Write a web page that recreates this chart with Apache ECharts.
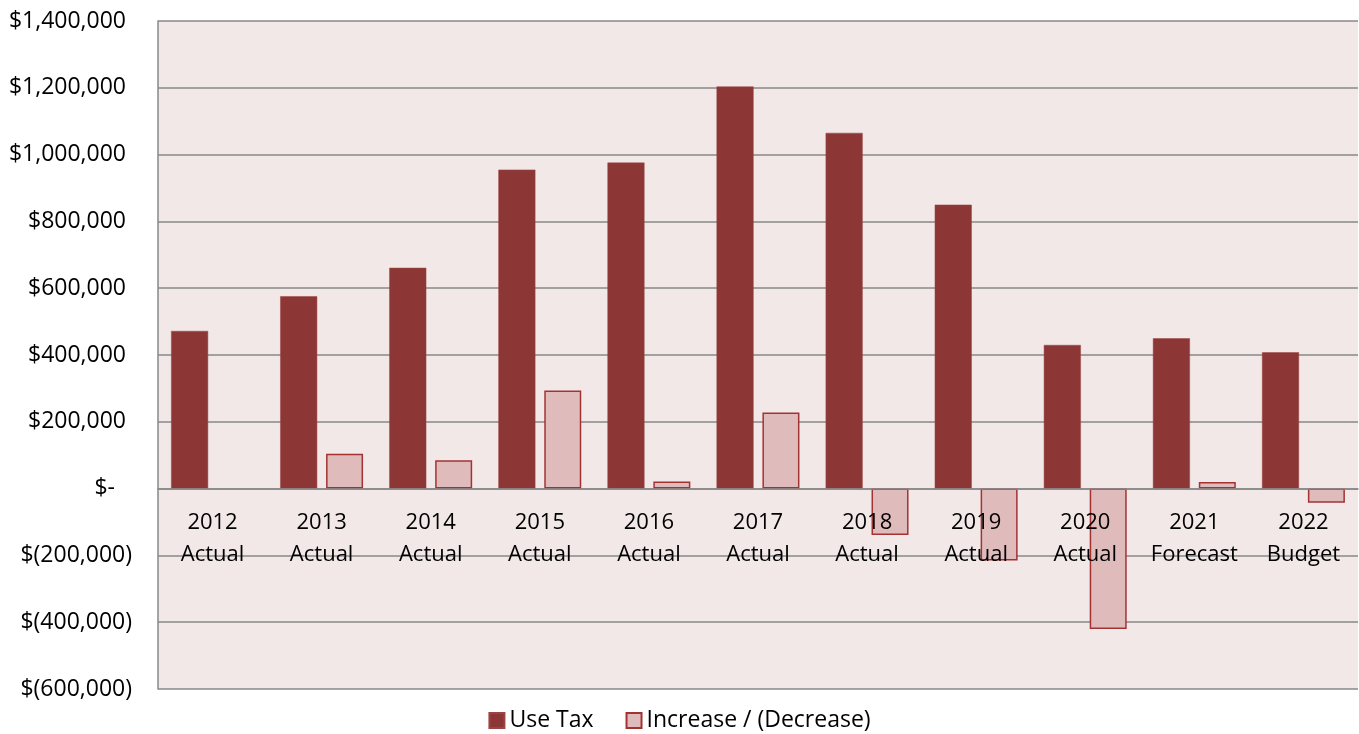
<!DOCTYPE html>
<html>
<head>
<meta charset="utf-8">
<script src="https://cdn.jsdelivr.net/npm/echarts@6/dist/echarts.min.js"></script>
<style>
  html, body { margin: 0; padding: 0; background: #ffffff; }
  #chart { width: 1359px; height: 734px; }
</style>
</head>
<body>
<div id="chart"></div>
<script>
// Fiscal years, each with its status on a second line
const categories = [
  '2012\nActual', '2013\nActual', '2014\nActual', '2015\nActual', '2016\nActual',
  '2017\nActual', '2018\nActual', '2019\nActual', '2020\nActual', '2021\nForecast', '2022\nBudget'
];

// Use tax collected per year (dollars)
const useTax = [472000, 576000, 661000, 955000, 976000, 1204000, 1065000, 850000, 430000, 450000, 408000];

// Year-over-year change (dollars); no prior year for 2012
const change = [null, 104000, 85000, 294000, 21000, 228000, -139000, -215000, -420000, 20000, -42000];

const seriesNames = ['Use Tax', 'Increase / (Decrease)'];

// Value axis range
const yMin = -600000;
const yMax = 1400000;
const yStep = 200000;

const FONT = '"Open Sans", "Liberation Sans", sans-serif';

const W = 1359, H = 734;
const grid = { left: 158, right: 1, top: 21, bottom: 45 };
const plotH = H - grid.top - grid.bottom;
// the category axis sits on the zero line, so shift it up from the plot's bottom edge
const zeroOffset = -plotH * (0 - yMin) / (yMax - yMin);

function money(v) {
  if (v === 0) return '{z|$-}';
  const s = Math.abs(v).toLocaleString('en-US');
  return v < 0 ? '$(' + s + ')' : '$' + s + ' ';
}

const chart = echarts.init(document.getElementById('chart'), null, { renderer: 'canvas' });

chart.setOption({
  animation: false,
  backgroundColor: '#ffffff',
  textStyle: { fontFamily: FONT },
  grid: {
    left: grid.left, right: grid.right, top: grid.top, bottom: grid.bottom,
    containLabel: false,
    outerBoundsMode: 'none',
    show: true, backgroundColor: '#F2E8E8', borderWidth: 0
  },
  legend: {
    top: 704,
    left: 'center',
    itemWidth: 15,
    itemHeight: 15,
    itemGap: 32,
    icon: 'rect',
    textStyle: { fontFamily: FONT, fontSize: 23, color: '#000000' },
    data: seriesNames
  },
  xAxis: {
    type: 'category',
    data: categories,
    position: 'bottom',
    offset: zeroOffset,
    z: 5,
    axisLine: { show: true, onZero: false, lineStyle: { color: '#888888', width: 1.5 } },
    axisTick: { show: false },
    axisLabel: {
      interval: 0,
      margin: 18,
      color: '#000000',
      fontFamily: FONT,
      fontSize: 22,
      lineHeight: 32
    },
    splitLine: { show: false }
  },
  yAxis: {
    type: 'value',
    min: yMin,
    max: yMax,
    interval: yStep,
    axisLine: { show: true, lineStyle: { color: '#888888', width: 1.5 } },
    axisTick: { show: false },
    splitLine: { show: true, lineStyle: { color: '#888888', width: 1.5 } },
    axisLabel: {
      margin: 26,
      color: '#000000',
      fontFamily: FONT,
      fontSize: 23,
      formatter: money,
      rich: {
        z: { fontFamily: FONT, fontSize: 23, color: '#000000', padding: [0, 17, 0, 0] }
      }
    }
  },
  series: [
    {
      name: seriesNames[0],
      type: 'bar',
      data: useTax,
      barWidth: 37,
      barGap: '24%',
      itemStyle: { color: '#8C3735', borderColor: '#9A4543', borderWidth: 0.5 }
    },
    {
      name: seriesNames[1],
      type: 'bar',
      data: change,
      barWidth: 37,
      itemStyle: { color: '#E0BBBB', borderColor: '#A33333', borderWidth: 1.5 }
    }
  ]
});
</script>
</body>
</html>
